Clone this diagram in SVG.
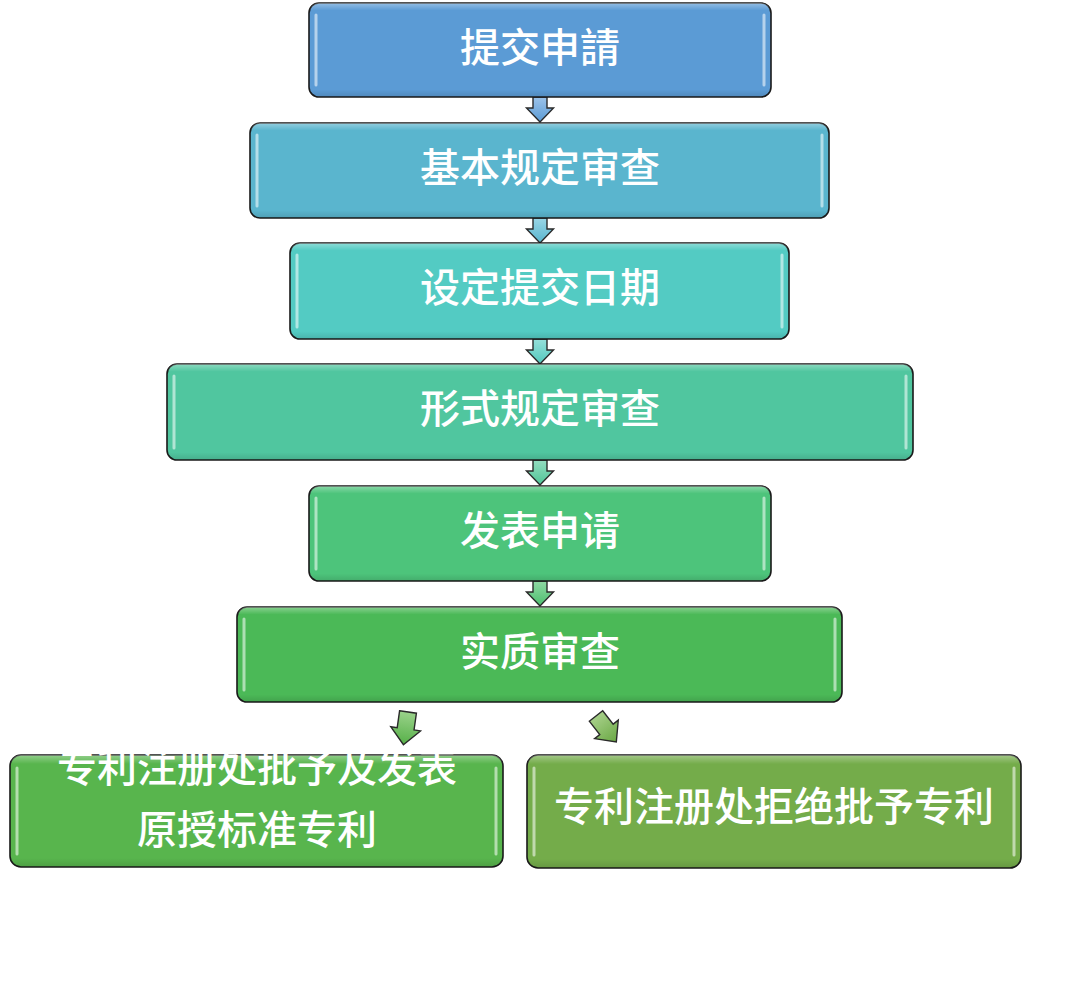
<svg xmlns="http://www.w3.org/2000/svg" width="1080" height="981" viewBox="0 0 1080 981">
<defs>
<style>
.box{stroke:#1a1a1a;stroke-width:1.6}
.hl{stroke:#ffffff;stroke-opacity:0.55;stroke-width:3;stroke-linecap:round}
.t{font-family:"Noto Sans CJK SC","Noto Sans CJK TC",sans-serif;font-size:40px;fill:#ffffff;text-anchor:middle;font-weight:500}
.arr{stroke:#2a2a2a;stroke-width:1.4;stroke-linejoin:miter}
</style>
<linearGradient id="gloss" x1="0" y1="0" x2="0" y2="1">
<stop offset="0" stop-color="#ffffff" stop-opacity="0.35"/>
<stop offset="0.08" stop-color="#ffffff" stop-opacity="0"/>
<stop offset="0.92" stop-color="#000000" stop-opacity="0"/>
<stop offset="1" stop-color="#000000" stop-opacity="0.12"/>
</linearGradient>
<linearGradient id="ab1" x1="0" y1="0" x2="0" y2="1"><stop offset="0" stop-color="#9cc3ea"/><stop offset="1" stop-color="#5a9ad4"/></linearGradient>
<linearGradient id="ab2" x1="0" y1="0" x2="0" y2="1"><stop offset="0" stop-color="#9ad6e6"/><stop offset="1" stop-color="#58b5ce"/></linearGradient>
<linearGradient id="ab3" x1="0" y1="0" x2="0" y2="1"><stop offset="0" stop-color="#96e0da"/><stop offset="1" stop-color="#52c8bd"/></linearGradient>
<linearGradient id="ab4" x1="0" y1="0" x2="0" y2="1"><stop offset="0" stop-color="#94dcc0"/><stop offset="1" stop-color="#4fc597"/></linearGradient>
<linearGradient id="ab5" x1="0" y1="0" x2="0" y2="1"><stop offset="0" stop-color="#90d8a4"/><stop offset="1" stop-color="#4cbf6e"/></linearGradient>
<linearGradient id="ab6" x1="0" y1="0" x2="0" y2="1"><stop offset="0" stop-color="#9ad28a"/><stop offset="1" stop-color="#56b048"/></linearGradient>
<linearGradient id="ab7" x1="0" y1="0" x2="0" y2="1"><stop offset="0" stop-color="#a6cf88"/><stop offset="1" stop-color="#6aa844"/></linearGradient>
<path id="va" d="M-7,0 H7 V11 H13.5 L0,25 L-13.5,11 H-7 Z"/>
<path id="da" d="M-8.5,0 H8.5 V17 H15 L0,33 L-15,17 H-8.5 Z"/>
</defs>

<g id="connectors">
<use href="#va" x="540" y="97" class="arr" fill="url(#ab1)"/>
<use href="#va" x="540" y="218" class="arr" fill="url(#ab2)"/>
<use href="#va" x="540" y="339" class="arr" fill="url(#ab3)"/>
<use href="#va" x="540" y="460" class="arr" fill="url(#ab4)"/>
<use href="#va" x="540" y="581" class="arr" fill="url(#ab5)"/>
<use href="#da" class="arr" fill="url(#ab6)" transform="translate(408,712) rotate(8)"/>
<use href="#da" class="arr" fill="url(#ab7)" transform="translate(596,716) rotate(-38)"/>
</g>

<g id="n1">
<rect class="box" x="309" y="3" width="462" height="94" rx="10" fill="#5b9bd5"/>
<rect x="309" y="3" width="462" height="94" rx="10" fill="url(#gloss)"/>
<line class="hl" x1="316" y1="15" x2="316" y2="85"/><line class="hl" x1="764" y1="15" x2="764" y2="85"/>
<text class="t" x="540" y="62">提交申請</text>
</g>

<g id="n2">
<rect class="box" x="250" y="123" width="579" height="95" rx="10" fill="#5ab5ce"/>
<rect x="250" y="123" width="579" height="95" rx="10" fill="url(#gloss)"/>
<line class="hl" x1="257" y1="135" x2="257" y2="206"/><line class="hl" x1="822" y1="135" x2="822" y2="206"/>
<text class="t" x="540" y="182">基本规定审查</text>
</g>

<g id="n3">
<rect class="box" x="290" y="243" width="499" height="96" rx="10" fill="#53cbc3"/>
<rect x="290" y="243" width="499" height="96" rx="10" fill="url(#gloss)"/>
<line class="hl" x1="297" y1="255" x2="297" y2="327"/><line class="hl" x1="782" y1="255" x2="782" y2="327"/>
<text class="t" x="540" y="302">设定提交日期</text>
</g>

<g id="n4">
<rect class="box" x="167" y="364" width="746" height="96" rx="10" fill="#50c69f"/>
<rect x="167" y="364" width="746" height="96" rx="10" fill="url(#gloss)"/>
<line class="hl" x1="174" y1="376" x2="174" y2="448"/><line class="hl" x1="906" y1="376" x2="906" y2="448"/>
<text class="t" x="540" y="423">形式规定审查</text>
</g>

<g id="n5">
<rect class="box" x="309" y="486" width="462" height="95" rx="10" fill="#4dc47b"/>
<rect x="309" y="486" width="462" height="95" rx="10" fill="url(#gloss)"/>
<line class="hl" x1="316" y1="498" x2="316" y2="569"/><line class="hl" x1="764" y1="498" x2="764" y2="569"/>
<text class="t" x="540" y="545">发表申请</text>
</g>

<g id="n6">
<rect class="box" x="237" y="607" width="605" height="95" rx="10" fill="#4bb957"/>
<rect x="237" y="607" width="605" height="95" rx="10" fill="url(#gloss)"/>
<line class="hl" x1="244" y1="619" x2="244" y2="690"/><line class="hl" x1="835" y1="619" x2="835" y2="690"/>
<text class="t" x="540" y="666">实质审查</text>
</g>

<g id="n7">
<rect class="box" x="10" y="755" width="493" height="112" rx="11" fill="#58b54d"/>
<rect x="10" y="755" width="493" height="112" rx="11" fill="url(#gloss)"/>
<line class="hl" x1="17" y1="768" x2="17" y2="854"/><line class="hl" x1="496" y1="768" x2="496" y2="854"/>
<text class="t" x="257" y="782">专利注册处批予及发表</text>
<text class="t" x="257" y="844">原授标准专利</text>
</g>

<g id="n8">
<rect class="box" x="527" y="755" width="494" height="113" rx="11" fill="#74ac4a"/>
<rect x="527" y="755" width="494" height="113" rx="11" fill="url(#gloss)"/>
<line class="hl" x1="534" y1="768" x2="534" y2="855"/><line class="hl" x1="1014" y1="768" x2="1014" y2="855"/>
<text class="t" x="774" y="821">专利注册处拒绝批予专利</text>
</g>
</svg>
